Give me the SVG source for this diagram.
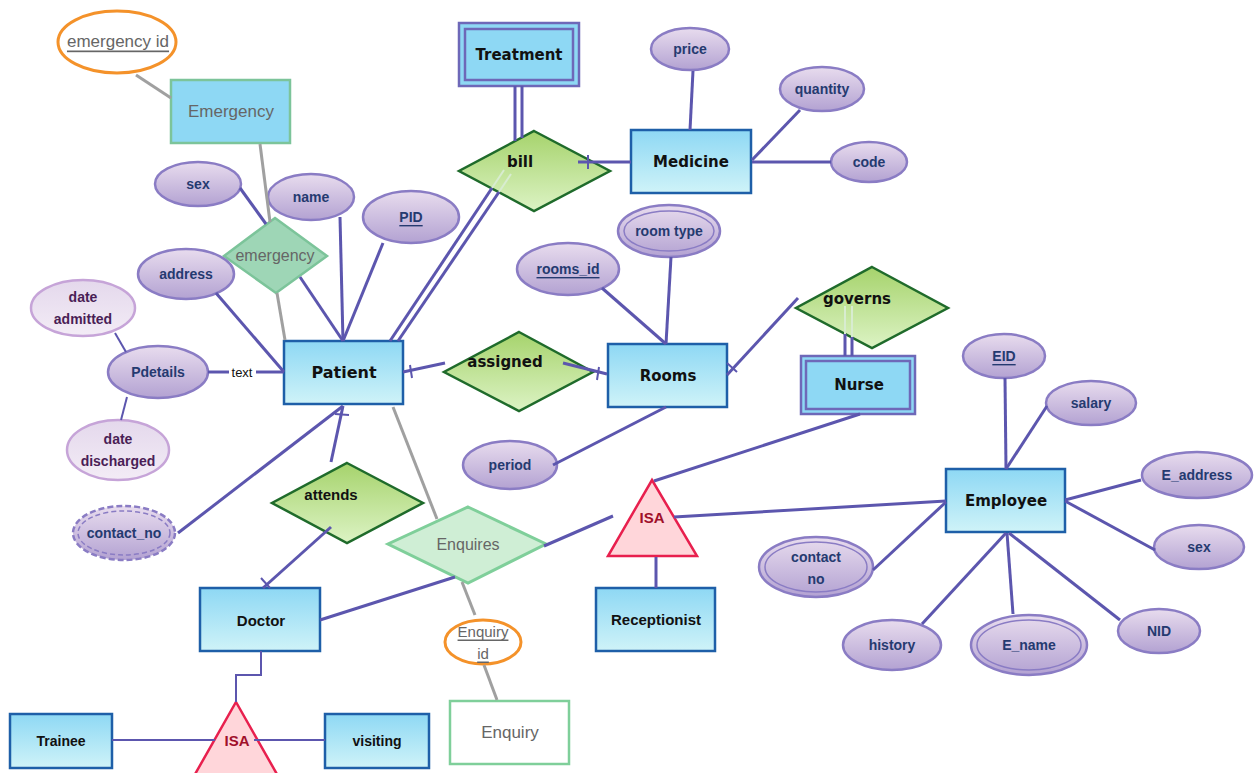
<svg xmlns="http://www.w3.org/2000/svg" width="1255" height="773" viewBox="0 0 1255 773">
<defs>
<linearGradient id="gEnt" x1="0" y1="0" x2="0" y2="1"><stop offset="0" stop-color="#8ed8f4"/><stop offset="1" stop-color="#cff3f8"/></linearGradient>
<linearGradient id="gAtt" x1="0" y1="0" x2="0" y2="1"><stop offset="0" stop-color="#e8dcee"/><stop offset="1" stop-color="#b3a2d2"/></linearGradient>
<linearGradient id="gRel" x1="0" y1="0" x2="0" y2="1"><stop offset="0" stop-color="#a6d36c"/><stop offset="1" stop-color="#dcf3c4"/></linearGradient>
<linearGradient id="gLight" x1="0" y1="0" x2="0" y2="1"><stop offset="0" stop-color="#e4d8ec"/><stop offset="1" stop-color="#f3ecf6"/></linearGradient>
</defs>
<style>
.ln{stroke:#5c56ae;stroke-width:3;fill:none}
.lt{stroke:#5c56ae;stroke-width:2;fill:none}
.lf{stroke:#d8ecd0;stroke-width:2;fill:none}
.gl{stroke:#a0a0a0;stroke-width:3;fill:none}
.ent{fill:url(#gEnt);stroke:#1e5fa8;stroke-width:2.5}
.wk{fill:#8ed8f4;stroke:#6e68b8;stroke-width:2.5}
.att{fill:url(#gAtt);stroke:#8a7cc4;stroke-width:2.5}
.rel{fill:url(#gRel);stroke:#1f6b2b;stroke-width:2.5}
.isa{fill:#ffd6da;stroke:#e8204e;stroke-width:2.5}
.orange{fill:#fff;stroke:#f4922a;stroke-width:3}
.te{font-family:"DejaVu Sans",Verdana,sans-serif;font-weight:bold;font-size:15px;fill:#111;text-anchor:middle;dominant-baseline:central}
.ta{font-family:"Liberation Sans",Arial,sans-serif;font-weight:bold;font-size:14px;fill:#253a70;text-anchor:middle;dominant-baseline:central}
.tb{font-family:"Liberation Sans",Arial,sans-serif;font-weight:bold;font-size:15px;fill:#111;text-anchor:middle;dominant-baseline:central}
.tg{font-family:"Liberation Sans",Arial,sans-serif;font-size:17px;fill:#666;text-anchor:middle;dominant-baseline:central}
.tp{font-family:"Liberation Sans",Arial,sans-serif;font-weight:bold;font-size:14px;fill:#4a1e56;text-anchor:middle;dominant-baseline:central}
.tr{font-family:"Liberation Sans",Arial,sans-serif;font-weight:bold;font-size:15px;fill:#a0102a;text-anchor:middle;dominant-baseline:central}
</style>

<g id="emergency-id"><ellipse class="orange" cx="117" cy="42" rx="59" ry="31"/><text class="tg" x="118" y="41" text-decoration="underline">emergency id</text></g>
<g id="Emergency"><rect x="171" y="80" width="119" height="63" fill="#8ed8f4" stroke="#7cc49a" stroke-width="2.5"/><text class="tg" x="231" y="111">Emergency</text></g>
<g id="emergency-rel"><polygon points="275,218 327,256 276,293 224,256" fill="#9ed6b6" stroke="#7cc49a" stroke-width="2.5"/><text class="tg" x="275" y="255" style="font-size:16px">emergency</text></g>

<g id="sex"><ellipse class="att" cx="198" cy="184" rx="43" ry="22"/><text class="ta" x="198" y="184">sex</text></g>
<g id="name"><ellipse class="att" cx="311" cy="197" rx="43" ry="23"/><text class="ta" x="311" y="197">name</text></g>
<g id="PID"><ellipse class="att" cx="411" cy="217" rx="48" ry="26"/><text class="ta" x="411" y="217" text-decoration="underline">PID</text></g>
<g id="address"><ellipse class="att" cx="186" cy="274" rx="48" ry="25"/><text class="ta" x="186" y="274">address</text></g>
<g id="date-admitted"><ellipse cx="83" cy="308" rx="52" ry="28" fill="url(#gLight)" stroke="#c6a4d8" stroke-width="2.5"/><text class="tp" x="83" y="297">date</text><text class="tp" x="83" y="319">admitted</text></g>
<g id="Pdetails"><ellipse class="att" cx="158" cy="372" rx="50" ry="26"/><text class="ta" x="158" y="372">Pdetails</text></g>
<g id="text-label"><text x="242" y="372" style="font-family:'Liberation Sans',Arial,sans-serif;font-size:13px;fill:#111;text-anchor:middle;dominant-baseline:central">text</text></g>
<g id="date-discharged"><ellipse cx="118" cy="450" rx="51" ry="30" fill="url(#gLight)" stroke="#c6a4d8" stroke-width="2.5"/><text class="tp" x="118" y="439">date</text><text class="tp" x="118" y="461">discharged</text></g>
<g id="contact_no"><ellipse class="att" cx="124" cy="533" rx="51" ry="27" stroke-dasharray="6,3"/><ellipse cx="124" cy="533" rx="46" ry="22" fill="none" stroke="#8a7cc4" stroke-width="1.5" stroke-dasharray="5,3"/><text class="ta" x="124" y="533">contact_no</text></g>

<g id="Patient"><rect class="ent" x="284" y="341" width="119" height="63"/><text class="te" x="344" y="372" style="font-size:16px">Patient</text></g>
<g id="attends"><polygon class="rel" points="347,463 423,503 347,543 272,503"/><text class="tb" x="331" y="494">attends</text></g>
<g id="Doctor"><rect class="ent" x="200" y="588" width="120" height="63"/><text class="tb" x="261" y="620">Doctor</text></g>
<g id="isa-doctor"><polygon class="isa" points="236,702 278,776 194,776"/><text class="tr" x="237" y="740">ISA</text></g>
<g id="Trainee"><rect class="ent" x="10" y="714" width="102" height="54"/><text class="tb" x="61" y="741" style="font-size:14px">Trainee</text></g>
<g id="visiting"><rect class="ent" x="325" y="714" width="104" height="54"/><text class="tb" x="377" y="741" style="font-size:14px">visiting</text></g>

<g id="Treatment"><rect class="wk" x="459" y="23" width="120" height="63"/><rect x="465" y="29" width="108" height="51" fill="none" stroke="#6e68b8" stroke-width="2.5"/><text class="te" x="519" y="55">Treatment</text></g>
<g id="bill"><polygon class="rel" points="534,131 610,171 534,211 459,171"/><text class="te" x="520" y="162">bill</text></g>
<g id="Medicine"><rect class="ent" x="631" y="130" width="120" height="63"/><text class="te" x="691" y="162">Medicine</text></g>
<g id="price"><ellipse class="att" cx="690" cy="49" rx="39" ry="21"/><text class="ta" x="690" y="49">price</text></g>
<g id="quantity"><ellipse class="att" cx="822" cy="89" rx="42" ry="22"/><text class="ta" x="822" y="89">quantity</text></g>
<g id="code"><ellipse class="att" cx="869" cy="162" rx="38" ry="20"/><text class="ta" x="869" y="162">code</text></g>

<g id="room-type"><ellipse class="att" cx="669" cy="231" rx="51" ry="26"/><ellipse cx="669" cy="231" rx="45" ry="20" fill="none" stroke="#8a7cc4" stroke-width="1.5"/><text class="ta" x="669" y="231">room type</text></g>
<g id="rooms_id"><ellipse class="att" cx="568" cy="269" rx="51" ry="26"/><text class="ta" x="568" y="269" text-decoration="underline">rooms_id</text></g>
<g id="assigned"><polygon class="rel" points="519,332 593,372 519,411 444,372"/><text class="te" x="505" y="362">assigned</text></g>
<g id="Rooms"><rect class="ent" x="608" y="344" width="119" height="63"/><text class="te" x="668" y="376">Rooms</text></g>
<g id="period"><ellipse class="att" cx="510" cy="465" rx="47" ry="24"/><text class="ta" x="510" y="465">period</text></g>
<g id="governs"><polygon class="rel" points="872,267 948,308 872,348 796,308"/><text class="te" x="857" y="299">governs</text></g>
<g id="Nurse"><rect class="wk" x="801" y="356" width="114" height="58"/><rect x="806" y="361" width="104" height="48" fill="none" stroke="#6e68b8" stroke-width="2.5"/><text class="te" x="859" y="385">Nurse</text></g>

<g id="Enquires"><polygon points="468,507 546,544 468,583 388,544" fill="#cfeed5" stroke="#7fcf9a" stroke-width="3"/><text class="tg" x="468" y="544" style="font-size:16px">Enquires</text></g>
<g id="Enquiry-id"><ellipse class="orange" cx="483" cy="642" rx="38" ry="22"/><text class="tg" x="483" y="631" style="font-size:15px" text-decoration="underline">Enquiry</text><text class="tg" x="483" y="653" style="font-size:15px" text-decoration="underline">id</text></g>
<g id="Enquiry"><rect x="450" y="701" width="119" height="63" fill="#fff" stroke="#7fcf9a" stroke-width="2.5"/><text class="tg" x="510" y="732">Enquiry</text></g>

<g id="isa-employee"><polygon class="isa" points="652,480 697,556 608,556"/><text class="tr" x="652" y="517">ISA</text></g>
<g id="Receptionist"><rect class="ent" x="596" y="588" width="119" height="63"/><text class="tb" x="656" y="619">Receptionist</text></g>
<g id="Employee"><rect class="ent" x="946" y="469" width="119" height="63"/><text class="te" x="1006" y="501">Employee</text></g>
<g id="EID"><ellipse class="att" cx="1004" cy="356" rx="41" ry="22"/><text class="ta" x="1004" y="356" text-decoration="underline">EID</text></g>
<g id="salary"><ellipse class="att" cx="1091" cy="403" rx="45" ry="22"/><text class="ta" x="1091" y="403">salary</text></g>
<g id="E_address"><ellipse class="att" cx="1197" cy="475" rx="55" ry="23"/><text class="ta" x="1197" y="475">E_address</text></g>
<g id="sex-employee"><ellipse class="att" cx="1199" cy="547" rx="45" ry="22"/><text class="ta" x="1199" y="547">sex</text></g>
<g id="NID"><ellipse class="att" cx="1159" cy="631" rx="41" ry="22"/><text class="ta" x="1159" y="631">NID</text></g>
<g id="E_name"><ellipse class="att" cx="1029" cy="645" rx="58" ry="30"/><ellipse cx="1029" cy="645" rx="52" ry="25" fill="none" stroke="#8a7cc4" stroke-width="1.5"/><text class="ta" x="1029" y="645">E_name</text></g>
<g id="history"><ellipse class="att" cx="892" cy="645" rx="49" ry="25"/><text class="ta" x="892" y="645">history</text></g>
<g id="contact-no-employee"><ellipse class="att" cx="816" cy="567" rx="57" ry="30"/><ellipse cx="816" cy="567" rx="51" ry="25" fill="none" stroke="#8a7cc4" stroke-width="1.5"/><text class="ta" x="816" y="557">contact</text><text class="ta" x="816" y="579">no</text></g>

<g id="connectors">
<line class="gl" x1="136" y1="75" x2="171" y2="98"/>
<line class="gl" x1="260" y1="144" x2="270" y2="222"/>
<line class="gl" x1="277" y1="293" x2="285" y2="340"/>
<line class="gl" x1="393" y1="407" x2="437" y2="519"/>
<line class="gl" x1="462" y1="582" x2="475" y2="615"/>
<line class="gl" x1="484" y1="665" x2="497" y2="700"/>
<line class="ln" x1="240" y1="188" x2="266" y2="224"/>
<line class="ln" x1="340" y1="217" x2="343" y2="341"/>
<line class="ln" x1="383" y1="243" x2="343" y2="341"/>
<line class="ln" x1="300" y1="277" x2="343" y2="341"/>
<line class="ln" x1="216" y1="293" x2="284" y2="372"/>
<line class="ln" x1="208" y1="372" x2="229" y2="372"/>
<line class="ln" x1="256" y1="372" x2="284" y2="372"/>
<line class="lt" x1="115" y1="333" x2="126" y2="352"/>
<line class="lt" x1="127" y1="397" x2="121" y2="420"/>
<line class="ln" x1="178" y1="533" x2="343" y2="406"/>
<line class="ln" x1="331" y1="462" x2="343" y2="406"/>
<line class="lt" x1="335" y1="414" x2="349" y2="415"/>
<line class="ln" x1="331" y1="527" x2="263" y2="588"/>
<line class="lt" x1="261" y1="578" x2="270" y2="588"/>
<line class="ln" x1="515" y1="86" x2="515" y2="141"/>
<line class="ln" x1="522" y1="86" x2="522" y2="138"/>
<line class="ln" x1="578" y1="162" x2="631" y2="162"/>
<line class="lt" x1="588" y1="155" x2="588" y2="169"/>
<line class="lf" x1="504" y1="170" x2="492" y2="188"/>
<line class="lf" x1="511" y1="174" x2="499" y2="192"/>
<line class="ln" x1="492" y1="188" x2="390" y2="341"/>
<line class="ln" x1="499" y1="192" x2="398" y2="341"/>
<line class="ln" x1="693" y1="71" x2="690" y2="130"/>
<line class="ln" x1="800" y1="110" x2="752" y2="160"/>
<line class="ln" x1="831" y1="162" x2="752" y2="162"/>
<line class="ln" x1="671" y1="257" x2="666" y2="344"/>
<line class="ln" x1="602" y1="288" x2="666" y2="344"/>
<line class="ln" x1="445" y1="363" x2="403" y2="372"/>
<line class="lt" x1="410" y1="365" x2="412" y2="378"/>
<line class="ln" x1="563" y1="363" x2="607" y2="374"/>
<line class="lt" x1="599" y1="367" x2="597" y2="380"/>
<line class="ln" x1="553" y1="465" x2="666" y2="407"/>
<line class="ln" x1="798" y1="298" x2="727" y2="375"/>
<line class="lt" x1="727" y1="363" x2="737" y2="372"/>
<line class="lf" x1="845" y1="306" x2="845" y2="334"/>
<line class="lf" x1="852" y1="306" x2="852" y2="337"/>
<line class="ln" x1="845" y1="334" x2="845" y2="356"/>
<line class="ln" x1="852" y1="337" x2="852" y2="356"/>
<line class="ln" x1="860" y1="414" x2="654" y2="481"/>
<line class="ln" x1="674" y1="517" x2="946" y2="501"/>
<line class="ln" x1="544" y1="546" x2="613" y2="516"/>
<line class="ln" x1="656" y1="557" x2="656" y2="588"/>
<line class="ln" x1="320" y1="620" x2="455" y2="577"/>
<polyline class="lt" points="261,651 261,675 236,675 236,702"/>
<line class="lt" x1="112" y1="740" x2="215" y2="740"/>
<line class="lt" x1="254" y1="740" x2="325" y2="740"/>
<line class="ln" x1="1005" y1="378" x2="1006" y2="469"/>
<line class="ln" x1="1047" y1="406" x2="1006" y2="469"/>
<line class="ln" x1="1141" y1="480" x2="1065" y2="500"/>
<line class="ln" x1="1155" y1="550" x2="1065" y2="501"/>
<line class="ln" x1="1120" y1="620" x2="1009" y2="533"/>
<line class="ln" x1="1013" y1="614" x2="1007" y2="533"/>
<line class="ln" x1="922" y1="624" x2="1006" y2="533"/>
<line class="ln" x1="873" y1="570" x2="946" y2="502"/>
</g>
</svg>
